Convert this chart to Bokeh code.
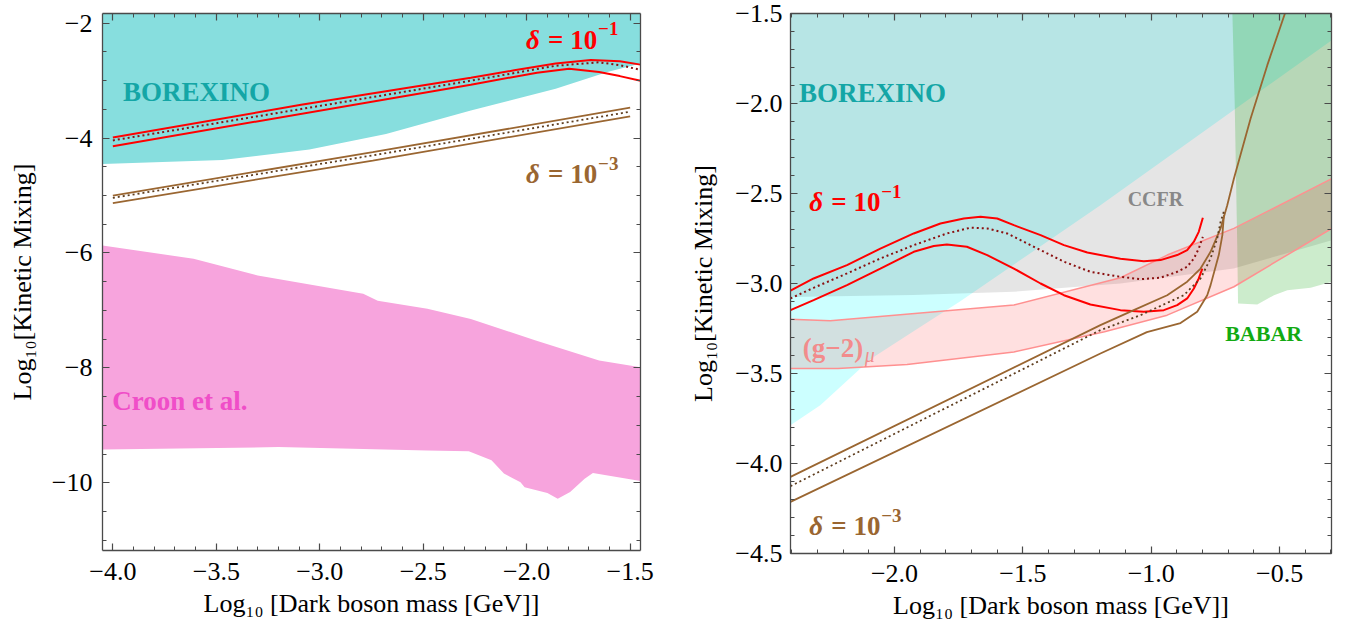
from bokeh.plotting import figure
from bokeh.layouts import row
from bokeh.models import LinearAxis, FixedTicker, Label, Range1d, CustomJSTickFormatter
from bokeh.embed import file_html
from bokeh.resources import INLINE

# ---------------- Left panel data ----------------
bor_L_x = [-4.05, -3.47, -3.05, -2.68, -2.27, -1.86, -1.61, -1.45]
bor_L_y = [-4.45, -4.38, -4.20, -3.93, -3.52, -3.14, -2.85, -2.70]

croon_up_x = [-4.05, -3.61, -3.30, -2.79, -2.72, -2.48, -2.27, -1.96, -1.65, -1.45]
croon_up_y = [-5.87, -6.10, -6.39, -6.71, -6.83, -6.97, -7.15, -7.52, -7.87, -7.99]
croon_lo_x = [-4.05, -3.20, -2.48, -2.28, -2.17, -2.11, -2.03, -2.01, -1.90, -1.85, -1.79, -1.72, -1.68, -1.45]
croon_lo_y = [-9.42, -9.38, -9.44, -9.45, -9.61, -9.84, -9.99, -10.08, -10.18, -10.28, -10.16, -9.93, -9.83, -9.97]

redL_up_x = [-4.0, -3.09, -2.27, -2.06, -1.86, -1.69, -1.55, -1.45]
redL_up_y = [-3.99, -3.42, -2.95, -2.82, -2.70, -2.64, -2.66, -2.72]
redL_dot_x = [-4.0, -2.27, -1.86, -1.65, -1.55, -1.45]
redL_dot_y = [-4.04, -3.00, -2.74, -2.68, -2.73, -2.81]
redL_lo_x = [-4.0, -2.27, -1.95, -1.795, -1.65, -1.55, -1.45]
redL_lo_y = [-4.14, -3.07, -2.86, -2.79, -2.85, -2.92, -3.00]

brownL_x = [-4.0, -2.744, -1.5]
brownL_up_y = [-5.00, -4.245, -3.47]
brownL_dot_y = [-5.04, -4.30, -3.54]
brownL_lo_y = [-5.13, -4.39, -3.62]

# ---------------- Right panel data ----------------
bor_R_x = [-2.405, -2.289, -2.09, -1.909, -1.745, -1.198, -0.297]
bor_R_y = [-3.787, -3.676, -3.417, -3.25, -3.10, -2.565, -1.648]

ccfr_x = [-2.405, -1.925, -1.535, -1.12, -0.679, -0.297]
ccfr_y = [-3.075, -3.064, -3.046, -3.0, -2.917, -2.76]

babar_x = [-0.684, -0.675, -0.665, -0.662, -0.587, -0.522, -0.47, -0.379, -0.297]
babar_y = [-1.5, -2.0, -2.8, -3.111, -3.117, -3.065, -3.037, -3.024, -2.99]

g2_up_x = [-2.405, -2.25, -1.535, -1.12, -0.938, -0.678, -0.297]
g2_up_y = [-3.198, -3.207, -3.12, -2.968, -2.842, -2.694, -2.417]
g2_lo_x = [-2.405, -2.22, -1.951, -1.535, -1.182, -0.938, -0.678, -0.297]
g2_lo_y = [-3.472, -3.472, -3.45, -3.38, -3.268, -3.176, -3.018, -2.694]

redR_up_x = [-2.405, -2.315, -2.185, -2.055, -1.925, -1.821, -1.73, -1.665, -1.6, -1.535, -1.431,
             -1.34, -1.249, -1.12, -1.029, -0.964, -0.899, -0.86, -0.834, -0.815, -0.799]
redR_up_y = [-3.04, -2.972, -2.898, -2.806, -2.722, -2.667, -2.639, -2.629, -2.639, -2.676, -2.731,
             -2.787, -2.828, -2.863, -2.876, -2.87, -2.842, -2.815, -2.768, -2.713, -2.635]
redR_dot_x = [-2.405, -2.315, -2.185, -2.055, -1.925, -1.796, -1.704, -1.639, -1.561, -1.457, -1.34,
              -1.237, -1.12, -1.042, -0.964, -0.899, -0.86, -0.834, -0.815, -0.799]
redR_dot_y = [-3.083, -3.024, -2.944, -2.861, -2.787, -2.722, -2.69, -2.694, -2.722, -2.796, -2.879,
              -2.935, -2.963, -2.976, -2.968, -2.935, -2.907, -2.861, -2.806, -2.741]
redR_lo_x = [-2.405, -2.315, -2.185, -2.055, -1.925, -1.847, -1.796, -1.718, -1.639, -1.535, -1.431,
             -1.34, -1.237, -1.12, -1.029, -0.951, -0.899, -0.86, -0.834, -0.815, -0.801]
redR_lo_y = [-3.148, -3.092, -3.009, -2.917, -2.824, -2.792, -2.783, -2.796, -2.842, -2.917, -3.0,
             -3.065, -3.117, -3.148, -3.157, -3.148, -3.12, -3.083, -3.028, -2.972, -2.917]

brownR_up_x = [-2.405, -1.198, -1.068, -0.938, -0.86, -0.808, -0.769, -0.73, -0.704, -0.678,
               -0.613, -0.548, -0.477]
brownR_up_y = [-4.074, -3.231, -3.148, -3.065, -2.99, -2.917, -2.824, -2.694, -2.565, -2.417,
               -2.083, -1.787, -1.49]
brownR_dot_x = [-2.405, -1.198, -1.042, -0.873, -0.808, -0.782, -0.769, -0.743, -0.73, -0.717]
brownR_dot_y = [-4.126, -3.259, -3.176, -3.065, -2.972, -2.898, -2.861, -2.75, -2.657, -2.60]
brownR_lo_x = [-2.405, -1.198, -1.017, -0.886, -0.821, -0.782, -0.769, -0.737, -0.723, -0.717]
brownR_lo_y = [-4.213, -3.389, -3.27, -3.22, -3.157, -3.065, -3.009, -2.842, -2.731, -2.62]

# tick positions
L_xticks = [-4.0, -3.5, -3.0, -2.5, -2.0, -1.5]
L_yticks = [-2, -4, -6, -8, -10]
R_xticks = [-2.0, -1.5, -1.0, -0.5]
R_yticks = [-1.5, -2.0, -2.5, -3.0, -3.5, -4.0, -4.5]

SERIF = "Liberation Serif"
FRAME = "#4a4a4a"
RED = "#FF0000"
REDDOT = "#8B1010"
BROWN = "#9A6631"
BROWNDOT = "#5E3D1E"
TEAL = "#14A6A6"
LIFT = 9  # screen-pixel baseline correction for labels


def minors(lo, hi, step):
    out = []
    n0 = int(round(lo / step)) - 1
    n1 = int(round(hi / step)) + 1
    for k in range(n0, n1 + 1):
        out.append(round(k * step, 6))
    return out


def setup_axis(ax, majors, minor_list, decimals, show_labels, label=None):
    ax.ticker = FixedTicker(ticks=majors, minor_ticks=minor_list)
    if show_labels:
        ax.formatter = CustomJSTickFormatter(code="""
            const s = Math.abs(tick).toFixed(%d);
            return (tick < -1e-9 ? "\\u2212" : "") + s;
        """ % decimals)
        ax.major_label_text_font = SERIF
        ax.major_label_text_font_size = "26px"
        ax.major_label_text_color = "black"
    else:
        ax.formatter = CustomJSTickFormatter(code="return '';")
        ax.major_label_text_font_size = "0px"
        ax.major_label_standoff = 0
    ax.axis_line_color = FRAME
    ax.axis_line_width = 1.3
    ax.major_tick_line_color = FRAME
    ax.minor_tick_line_color = FRAME
    ax.major_tick_line_width = 1.2
    ax.minor_tick_line_width = 1.0
    ax.major_tick_in = 7
    ax.major_tick_out = 0
    ax.minor_tick_in = 4
    ax.minor_tick_out = 0
    if label is not None:
        ax.axis_label = label
        ax.axis_label_text_font = SERIF
        ax.axis_label_text_font_size = "26px"
        ax.axis_label_text_font_style = "normal"
        ax.axis_label_text_color = "black"


def make_fig(xr, yr, fw, fh, bl, br, bt, bb):
    p = figure(x_range=Range1d(*xr), y_range=Range1d(*yr),
               frame_width=fw, frame_height=fh,
               min_border_left=bl, min_border_right=br,
               min_border_top=bt, min_border_bottom=bb,
               toolbar_location=None, output_backend="svg",
               background_fill_color="white", border_fill_color="white")
    p.outline_line_color = None
    p.xgrid.grid_line_color = None
    p.ygrid.grid_line_color = None
    return p


def add_label(p, x, y, text, size, color, style="bold", xo=0, yo=0):
    p.add_layout(Label(x=x, y=y, text=text, text_font=SERIF, text_font_size=size,
                       text_font_style=style, text_color=color, x_offset=xo, y_offset=yo + LIFT,
                       text_baseline="alphabetic", text_align="left"))


def add_delta(p, x, y, exp, color):
    add_label(p, x, y, "\u03b4", "27px", color, "bold italic")
    add_label(p, x, y, "= 10", "27px", color, "bold", xo=22)
    add_label(p, x, y, exp, "19px", color, "bold", xo=72, yo=11)


XLAB = "Log\u2081\u2080 [Dark boson mass [GeV]]"
YLAB = "Log\u2081\u2080[Kinetic Mixing]"

# ================= LEFT =================
p1 = make_fig((-4.05, -1.45), (-11.18, -1.83), 538, 537, 102, 18, 13, 78)
L_xmin = minors(-4.05, -1.45, 0.1)
L_ymin = minors(-11.18, -1.83, 0.5)
setup_axis(p1.xaxis[0], L_xticks, L_xmin, 1, True, XLAB)
setup_axis(p1.yaxis[0], L_yticks, L_ymin, 0, True, YLAB)
p1.xaxis[0].major_label_standoff = 12
p1.xaxis[0].axis_label_standoff = 6
p1.yaxis[0].major_label_standoff = 10
p1.yaxis[0].axis_label_standoff = 12
top1 = LinearAxis(); setup_axis(top1, L_xticks, L_xmin, 1, False)
right1 = LinearAxis(); setup_axis(right1, L_yticks, L_ymin, 0, False)
p1.add_layout(top1, "above")
p1.add_layout(right1, "right")

p1.patch(bor_L_x + [-1.45, -4.05], bor_L_y + [-1.5, -1.5],
         fill_color="#87DEDE", fill_alpha=1.0, line_color=None)
p1.patch(croon_up_x + croon_lo_x[::-1], croon_up_y + croon_lo_y[::-1],
         fill_color="#F7A4DD", fill_alpha=1.0, line_color=None)

p1.line(redL_up_x, redL_up_y, line_color=RED, line_width=2)
p1.line(redL_lo_x, redL_lo_y, line_color=RED, line_width=2)
p1.line(redL_dot_x, redL_dot_y, line_color=REDDOT, line_width=2, line_dash="2 3")
p1.line(brownL_x, brownL_up_y, line_color=BROWN, line_width=1.8)
p1.line(brownL_x, brownL_lo_y, line_color=BROWN, line_width=1.8)
p1.line(brownL_x, brownL_dot_y, line_color=BROWNDOT, line_width=1.8, line_dash="2 3")

add_label(p1, -3.951, -3.345, "BOREXINO", "27px", TEAL)
add_label(p1, -4.003, -8.73, "Croon et al.", "27px", "#F04EC8")
add_delta(p1, -2.003, -2.446, "\u22121", RED)
add_delta(p1, -2.003, -4.785, "\u22123", BROWN)

# ================= RIGHT =================
p2 = make_fig((-2.405, -0.298), (-4.5, -1.5), 541, 540, 132, 6, 12, 76)
R_xmin = minors(-2.405, -0.298, 0.1)
R_ymin = minors(-4.5, -1.5, 0.1)
setup_axis(p2.xaxis[0], R_xticks, R_xmin, 1, True, XLAB)
setup_axis(p2.yaxis[0], R_yticks, R_ymin, 1, True, YLAB)
p2.xaxis[0].major_label_standoff = 11
p2.xaxis[0].axis_label_standoff = 6
p2.yaxis[0].major_label_standoff = 8
p2.yaxis[0].axis_label_standoff = 14
top2 = LinearAxis(); setup_axis(top2, R_xticks, R_xmin, 1, False)
right2 = LinearAxis(); setup_axis(right2, R_yticks, R_ymin, 1, False)
p2.add_layout(top2, "above")
p2.add_layout(right2, "right")

p2.patch(bor_R_x + [-0.297, -2.405], bor_R_y + [-1.5, -1.5],
         fill_color="#00FFFF", fill_alpha=0.2, line_color=None)
p2.patch(ccfr_x + [-0.297, -2.405], ccfr_y + [-1.5, -1.5],
         fill_color="#000000", fill_alpha=0.1, line_color=None)
p2.patch(babar_x + [-0.297], babar_y + [-1.5],
         fill_color="#00A000", fill_alpha=0.2, line_color=None)
p2.patch(g2_up_x + g2_lo_x[::-1], g2_up_y + g2_lo_y[::-1],
         fill_color="#FF0000", fill_alpha=0.12, line_color=None)
p2.line(g2_up_x, g2_up_y, line_color="#FF9090", line_width=1.5)
p2.line(g2_lo_x, g2_lo_y, line_color="#FF9090", line_width=1.5)

p2.line(redR_up_x, redR_up_y, line_color=RED, line_width=2)
p2.line(redR_lo_x, redR_lo_y, line_color=RED, line_width=2)
p2.line(redR_dot_x, redR_dot_y, line_color=REDDOT, line_width=2, line_dash="2 3")
p2.line(brownR_up_x, brownR_up_y, line_color=BROWN, line_width=1.8)
p2.line(brownR_lo_x, brownR_lo_y, line_color=BROWN, line_width=1.8)
p2.line(brownR_dot_x, brownR_dot_y, line_color=BROWNDOT, line_width=1.8, line_dash="2 3")

add_label(p2, -2.372, -1.99, "BOREXINO", "27px", TEAL)
add_label(p2, -1.092, -2.583, "CCFR", "20px", "#888888")
add_label(p2, -0.712, -3.328, "BABAR", "22px", "#12AA12")
add_label(p2, -2.357, -3.407, "(g\u22122)", "27px", "#F28C8C")
add_label(p2, -2.357, -3.407, "\u03bc", "20px", "#F28C8C", "italic", xo=62, yo=-7)
add_delta(p2, -2.332, -2.598, "\u22121", RED)
add_delta(p2, -2.332, -4.398, "\u22123", BROWN)

layout = row(p1, p2)
open("out.html", "w").write(file_html(layout, INLINE))
